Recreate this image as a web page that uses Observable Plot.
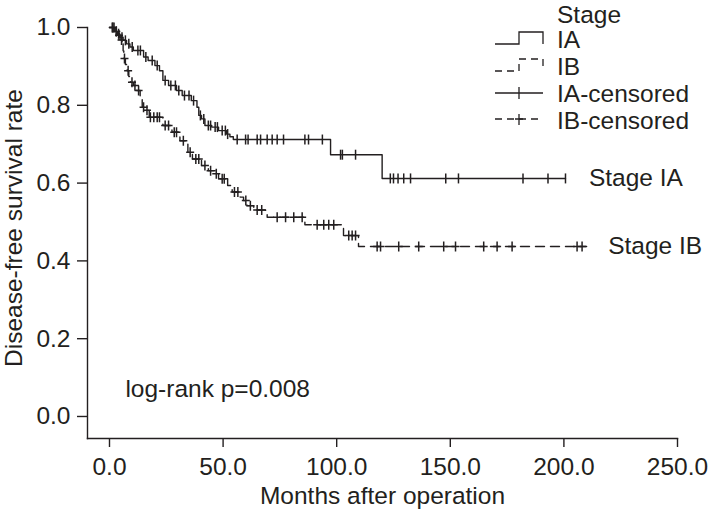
<!DOCTYPE html>
<html><head><meta charset="utf-8">
<script src="https://cdn.jsdelivr.net/npm/d3@7"></script>
<script src="https://cdn.jsdelivr.net/npm/@observablehq/plot@0.6"></script>
<style>
html,body{margin:0;padding:0;background:#fff;}
#wrap{position:relative;width:708px;height:518px;font-family:"Liberation Sans",Arial,sans-serif;}
#wrap > svg{position:absolute;left:0;top:0;}
</style></head><body><div id="wrap"></div>
<script>
// Stage IA Kaplan-Meier steps (months, survival)
const iaTimes = [0, 2.5, 3.5, 4.5, 6, 7.5, 9, 10.5, 15, 17, 20, 22, 23.5, 26, 29.5, 32, 36, 38.5, 39.3, 40.5, 42, 45, 48, 51.5, 53, 54.5, 97.3, 120, 200.7];
const iaSurv  = [1, 0.99, 0.984, 0.975, 0.967, 0.958, 0.95, 0.941, 0.924, 0.915, 0.902, 0.889, 0.864, 0.851, 0.838, 0.825, 0.812, 0.795, 0.774, 0.765, 0.748, 0.744, 0.735, 0.726, 0.719, 0.712, 0.673, 0.612, 0.612];
const iaCensored = [1.2, 2, 3, 4, 5.5, 7, 8.5, 10, 12.5, 13.6, 16, 18.8, 21, 24.5, 27, 29, 30.5, 33, 35, 37, 40, 41.5, 43.5, 44.5, 46.5, 47.5, 49.6, 51, 52, 56.2, 59.9, 61, 65, 66.5, 69.4, 71.6, 73.8, 76.6, 86, 87.6, 93.7, 101.7, 102.5, 108.3, 123.6, 125, 127, 129.5, 132.5, 148, 153.6, 182, 193, 200.7];

// Stage IB Kaplan-Meier steps (months, survival)
const ibTimes = [0, 2, 3.5, 5, 5.6, 6, 6.3, 7, 7.8, 8.5, 9.2, 10.5, 12, 13.5, 14.4, 15.8, 17.5, 23.5, 27.5, 31, 34.5, 36.5, 40.5, 43.5, 46.5, 48, 52, 54, 57.5, 59, 60.5, 63.5, 68.7, 69.4, 86, 103, 109.6, 210];
const ibSurv  = [1, 0.99, 0.98, 0.968, 0.958, 0.94, 0.92, 0.905, 0.889, 0.874, 0.859, 0.851, 0.838, 0.82, 0.795, 0.787, 0.769, 0.748, 0.731, 0.709, 0.679, 0.662, 0.645, 0.632, 0.624, 0.611, 0.594, 0.577, 0.564, 0.555, 0.542, 0.531, 0.521, 0.512, 0.493, 0.465, 0.437, 0.437];
const ibCensored = [1.5, 3, 4.2, 5.3, 6.6, 8.2, 9.9, 11.2, 12.8, 15, 16.5, 18, 19.5, 21, 22, 24.5, 26, 28.5, 29.5, 32.5, 35.5, 38, 39.3, 42, 44.5, 47, 49.6, 50.5, 55, 56.5, 60, 62, 65, 67, 73.8, 77.5, 81.1, 84.8, 91.4, 94.3, 96.5, 98.7, 105.3, 106.8, 108.3, 117.8, 119.3, 127.3, 136.1, 147.1, 152.3, 164.7, 170.6, 177.2, 205.8, 208];

// Axis ticks
const xTicks = [0, 50, 100, 150, 200, 250];
const yTicks = [0, 0.2, 0.4, 0.6, 0.8, 1.0];

// Annotations
const annText = ["Stage IA", "Stage IB", "log-rank p=0.008"];
const annX = [211, 219.5, 7];
const annY = [0.612, 0.437, 0.07];

// Legend
const legendTitle = "Stage";
const legendLabels = ["IA", "IB", "IA-censored", "IB-censored"];

const ink = "#231f20";
const FONT = "24.5px";

const rows = (ts, ss, g) => ts.map((t, i) => ({t, s: ss[i], g}));
const iaLine = rows(iaTimes, iaSurv, "IA");
const ibLine = rows(ibTimes, ibSurv, "IB");
const stepAt = (ts, ss, t) => ss[Math.max(0, d3.bisectRight(ts, t) - 1)];
const iaCens = iaCensored.map(t => ({t, s: stepAt(iaTimes, iaSurv, t)}));
const ibCens = ibCensored.map(t => ({t, s: stepAt(ibTimes, ibSurv, t)}));
const ann = annText.map((text, i) => ({text, x: annX[i], y: annY[i]}));

const tickSym = {draw(ctx, size) { const r = Math.sqrt(size / Math.PI); ctx.moveTo(0, -r); ctx.lineTo(0, r); }};
const plusSym = {draw(ctx, size) { const r = Math.sqrt(size / Math.PI); ctx.moveTo(0, -r); ctx.lineTo(0, r); ctx.moveTo(-r * 0.8, 0); ctx.lineTo(r * 0.8, 0); }};

const chart = Plot.plot({
  width: 708, height: 518,
  marginLeft: 87, marginRight: 31, marginTop: 27, marginBottom: 80,
  style: {fontFamily: '"Liberation Sans", Arial, sans-serif', fontSize: FONT, color: ink, background: "white", overflow: "visible"},
  x: {domain: [-9.68, 250]},
  y: {domain: [-0.0566, 1]},
  marks: [
    Plot.frame({anchor: "left", stroke: ink, strokeWidth: 1.4}),
    Plot.frame({anchor: "bottom", stroke: ink, strokeWidth: 1.4}),
    Plot.axisX(xTicks, {tickSize: 9, tickPadding: 10, tickFormat: d3.format(".1f"), label: null, fontSize: FONT, stroke: ink, strokeWidth: 1.4, fill: ink}),
    Plot.axisY(yTicks, {tickSize: 10, tickPadding: 7, tickFormat: d3.format(".1f"), label: null, fontSize: FONT, stroke: ink, strokeWidth: 1.4, fill: ink}),
    Plot.line(iaLine, {x: "t", y: "s", curve: "step-after", stroke: ink, strokeWidth: 1.4}),
    Plot.line(ibLine, {x: "t", y: "s", curve: "step-after", stroke: ink, strokeWidth: 1.4, strokeDasharray: "9,6"}),
    Plot.dot(iaCens, {x: "t", y: "s", symbol: tickSym, r: 5, fill: "none", stroke: ink, strokeWidth: 1.5}),
    Plot.dot(ibCens, {x: "t", y: "s", symbol: plusSym, r: 5, fill: "none", stroke: ink, strokeWidth: 1.5}),
    Plot.text(ann, {x: "x", y: "y", text: "text", textAnchor: "start", fontSize: FONT, fill: ink}),
    Plot.text(["Disease-free survival rate"], {frameAnchor: "left", textAnchor: "middle", dx: -73, dy: -5, rotate: -90, fontSize: FONT, fill: ink}),
    Plot.text(["Months after operation"], {frameAnchor: "bottom", textAnchor: "middle", dy: 65, fontSize: FONT, fill: ink})
  ]
});
const wrap = document.getElementById("wrap");
wrap.appendChild(chart);

// Legend overlay
const lg = d3.select(wrap).append("svg").attr("width", 708).attr("height", 518)
  .style("pointer-events", "none")
  .attr("font-family", '"Liberation Sans", Arial, sans-serif').attr("font-size", FONT).attr("fill", ink);
lg.append("text").attr("x", 557).attr("y", 23).text(legendTitle);
const base = [48, 75, 102, 129];
legendLabels.forEach((l, i) => lg.append("text").attr("x", 557).attr("y", base[i]).text(l));
const g = lg.append("g").attr("fill", "none").attr("stroke", ink).attr("stroke-width", 1.3);
g.append("path").attr("d", "M495,44H519V32H543V44");
g.append("path").attr("d", "M495,71H519V59H543V71").attr("stroke-dasharray", "7,5");
g.append("path").attr("d", "M495,93H543M519,87V99");
g.append("path").attr("d", "M495,119H543").attr("stroke-dasharray", "7,5");
g.append("path").attr("d", "M519,114V125M515,119H523");
</script></body></html>
